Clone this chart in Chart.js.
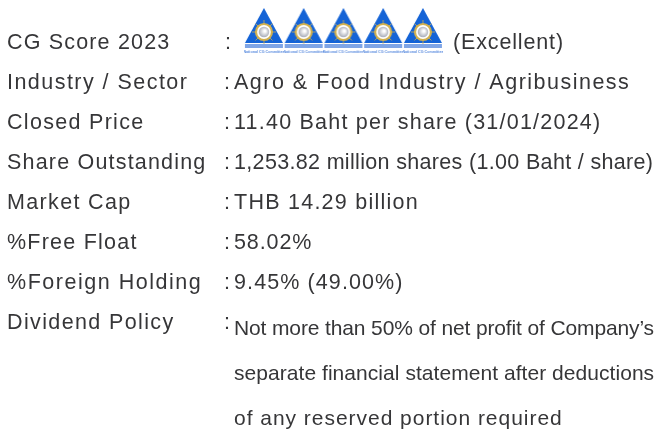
<!DOCTYPE html>
<html><head><meta charset="utf-8">
<style>html,body{margin:0;padding:0;background:#fff}#w{position:relative;width:657px;height:430px}</style>
<script src="https://cdn.jsdelivr.net/npm/chart.js@4"></script>
</head><body><div id="w"><canvas id="c" width="657" height="430"></canvas></div>
<script>
const rowLabels = ["CG Score 2023","Industry / Sector","Closed Price","Share Outstanding","Market Cap","%Free Float","%Foreign Holding","Dividend Policy"];
const rowValues = ["(Excellent)","Agro & Food Industry / Agribusiness","11.40 Baht per share (31/01/2024)","1,253.82 million shares (1.00 Baht / share)","THB 14.29 billion","58.02%","9.45% (49.00%)"];
const policyLines = ["Not more than 50% of net profit of Company’s","separate financial statement after deductions","of any reserved portion required"];
const cgLogos = [1,2,3,4,5];
// text styling (separate from the content above)
const valueX = [453,234,234,234,234,234,234];
const labelSpacing = [1.17,1.46,1.3,1.19,1.34,1.23,1.52,1.37];
const valueSpacing = [0.85,1.49,1.22,0.33,1.25,0.9,1.1];
const policySpacing = [-0.13,0.05,0.97];
const policyBase = [335,380,425];

function makeLogo(){
  const W=40,H=70,c=document.createElement('canvas');c.width=W;c.height=H;
  const g=c.getContext('2d'),cx=W/2;
  g.filter='blur(0.4px)';
  g.fillStyle='#1463d6';
  g.beginPath();g.moveTo(cx,0);g.lineTo(W-1,35);g.lineTo(1,35);g.closePath();g.fill();
  g.strokeStyle='#d2b04e';g.lineWidth=0.8;
  for(let a=0;a<8;a++){const t=a*Math.PI/4;g.beginPath();g.moveTo(cx+Math.cos(t)*8,24+Math.sin(t)*8);g.lineTo(cx+Math.cos(t)*12,24+Math.sin(t)*12);g.stroke();}
  g.fillStyle='#ffffff';g.beginPath();g.arc(cx,24,8,0,7);g.fill();
  g.strokeStyle='#d2b04e';g.lineWidth=2.2;
  g.beginPath();g.arc(cx,24,8,0,7);g.stroke();
  const r=g.createRadialGradient(cx+1,23,1,cx,24,5.5);r.addColorStop(0,'#ffffff');r.addColorStop(1,'#a4a8b4');
  g.fillStyle=r;g.beginPath();g.arc(cx,24,5.2,0,7);g.fill();
  g.fillStyle='#7fa5e6';g.fillRect(1,36,W-2,4);
  g.fillStyle='#5f8fe0';g.font='bold 3.7px "Liberation Sans"';g.textAlign='center';g.textBaseline='alphabetic';
  g.fillText('National CG Committee',cx,45);
  return c;
}
const logo=makeLogo();

const textPlugin={id:'rows',afterDatasetsDraw(ch){
  const g=ch.ctx,y=ch.scales.y;
  g.save();g.fillStyle='#363638';g.textBaseline='alphabetic';g.textAlign='left';
  g.font='21.5px "Liberation Sans"';
  rowLabels.forEach((t,i)=>{
    const b=y.getPixelForValue(i)+6.5;
    g.letterSpacing=labelSpacing[i]+'px';
    g.fillText(t,7,b);
    g.letterSpacing='0px';
    g.fillText(':',i===0?225:224,b);
    if(i<rowValues.length){g.letterSpacing=valueSpacing[i]+'px';g.fillText(rowValues[i],valueX[i],b);}
  });
  g.font='21px "Liberation Sans"';
  policyLines.forEach((t,i)=>{g.letterSpacing=policySpacing[i]+'px';g.fillText(t,234,policyBase[i]);});
  g.restore();
}};

new Chart(document.getElementById('c'),{
  type:'scatter',
  data:{datasets:[{data:cgLogos.map(v=>({x:v,y:0})),pointStyle:logo,pointRadius:20,pointHoverRadius:20}]},
  options:{responsive:false,animation:false,layout:{padding:0,autoPadding:false},
    plugins:{legend:{display:false},tooltip:{enabled:false}},
    scales:{
      x:{display:false,min:-5.64,max:10.89},
      y:{display:false,reverse:true,min:-1.076,max:9.687}
    }},
  plugins:[textPlugin]
});
</script></body></html>
